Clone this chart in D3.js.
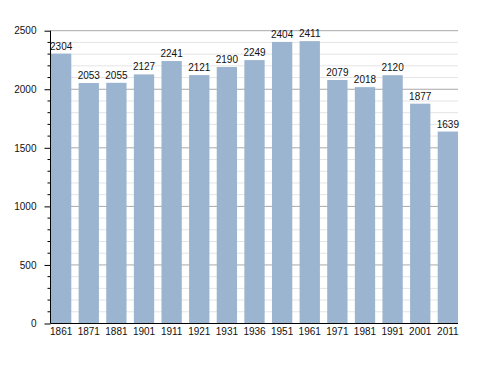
<!DOCTYPE html>
<html>
<head>
<meta charset="utf-8">
<script src="https://cdn.jsdelivr.net/npm/d3@7"></script>
<style>
  body { margin: 0; background: #fff; }
  text { font-family: "Liberation Sans", Arial, sans-serif; }
</style>
</head>
<body>
<div id="chart"></div>
<script>
const years = ['1861', '1871', '1881', '1901', '1911', '1921', '1931', '1936', '1951', '1961', '1971', '1981', '1991', '2001', '2011'];
const population = [2304, 2053, 2055, 2127, 2241, 2121, 2190, 2249, 2404, 2411, 2079, 2018, 2120, 1877, 1639];
const majorTicks = [0, 500, 1000, 1500, 2000, 2500];

const width = 488, height = 373;
const plotLeft = 50.5, plotRight = 458, plotTop = 30.7, plotBottom = 323.5;

const svg = d3.select('#chart')
    .append('svg')
    .attr('width', width)
    .attr('height', height);

const x = d3.scaleBand()
    .domain(years)
    .range([plotLeft + 0.5, plotRight])
    .paddingInner(0.265)
    .paddingOuter(0);

const y = d3.scaleLinear()
    .domain([0, 2500])
    .range([plotBottom, plotTop]);

const minorTicks = d3.range(0, 2501, 100).filter(v => v % 500 !== 0);

// minor gridlines
svg.append('g')
    .selectAll('line')
    .data(minorTicks)
    .join('line')
    .attr('x1', plotLeft)
    .attr('x2', plotRight)
    .attr('y1', d => y(d))
    .attr('y2', d => y(d))
    .attr('stroke', '#e4e4e4')
    .attr('stroke-width', 1);

// major gridlines
svg.append('g')
    .selectAll('line')
    .data(majorTicks.filter(d => d > 0))
    .join('line')
    .attr('x1', plotLeft)
    .attr('x2', plotRight)
    .attr('y1', d => y(d))
    .attr('y2', d => y(d))
    .attr('stroke', '#a8a8a8')
    .attr('stroke-width', 1);

// bars
svg.append('g')
    .selectAll('rect')
    .data(years)
    .join('rect')
    .attr('x', d => x(d))
    .attr('width', x.bandwidth())
    .attr('y', (d, i) => y(population[i]))
    .attr('height', (d, i) => y(0) - y(population[i]))
    .attr('fill', '#9bb4cf');

// value labels
svg.append('g')
    .selectAll('text')
    .data(years)
    .join('text')
    .attr('x', d => x(d) + x.bandwidth() / 2)
    .attr('y', (d, i) => y(population[i]) - 4)
    .attr('text-anchor', 'middle')
    .attr('font-size', 10)
    .attr('fill', '#111')
    .text((d, i) => population[i]);

// y axis
const yAxis = svg.append('g')
    .attr('transform', `translate(${plotLeft},0)`)
    .call(d3.axisLeft(y).tickValues(majorTicks).tickSize(6).tickPadding(8).tickFormat(d3.format('d')));
yAxis.select('.domain').remove();
yAxis.selectAll('text').attr('font-size', 10).attr('fill', '#111').style('font-family', '"Liberation Sans", Arial, sans-serif');
yAxis.selectAll('line').attr('stroke', '#000');

svg.append('g')
    .selectAll('line')
    .data(minorTicks)
    .join('line')
    .attr('x1', plotLeft - 3)
    .attr('x2', plotLeft)
    .attr('y1', d => y(d))
    .attr('y2', d => y(d))
    .attr('stroke', '#000');

svg.append('line')
    .attr('x1', plotLeft).attr('x2', plotLeft)
    .attr('y1', plotTop).attr('y2', plotBottom)
    .attr('stroke', '#000');

// x axis
const xAxis = svg.append('g')
    .attr('transform', `translate(0,${plotBottom})`)
    .call(d3.axisBottom(x).tickSize(0).tickPadding(4));
xAxis.select('.domain').remove();
xAxis.selectAll('text').attr('font-size', 10).attr('fill', '#111').style('font-family', '"Liberation Sans", Arial, sans-serif');

svg.append('line')
    .attr('x1', plotLeft).attr('x2', plotRight)
    .attr('y1', plotBottom).attr('y2', plotBottom)
    .attr('stroke', '#000');
</script>
</body>
</html>
